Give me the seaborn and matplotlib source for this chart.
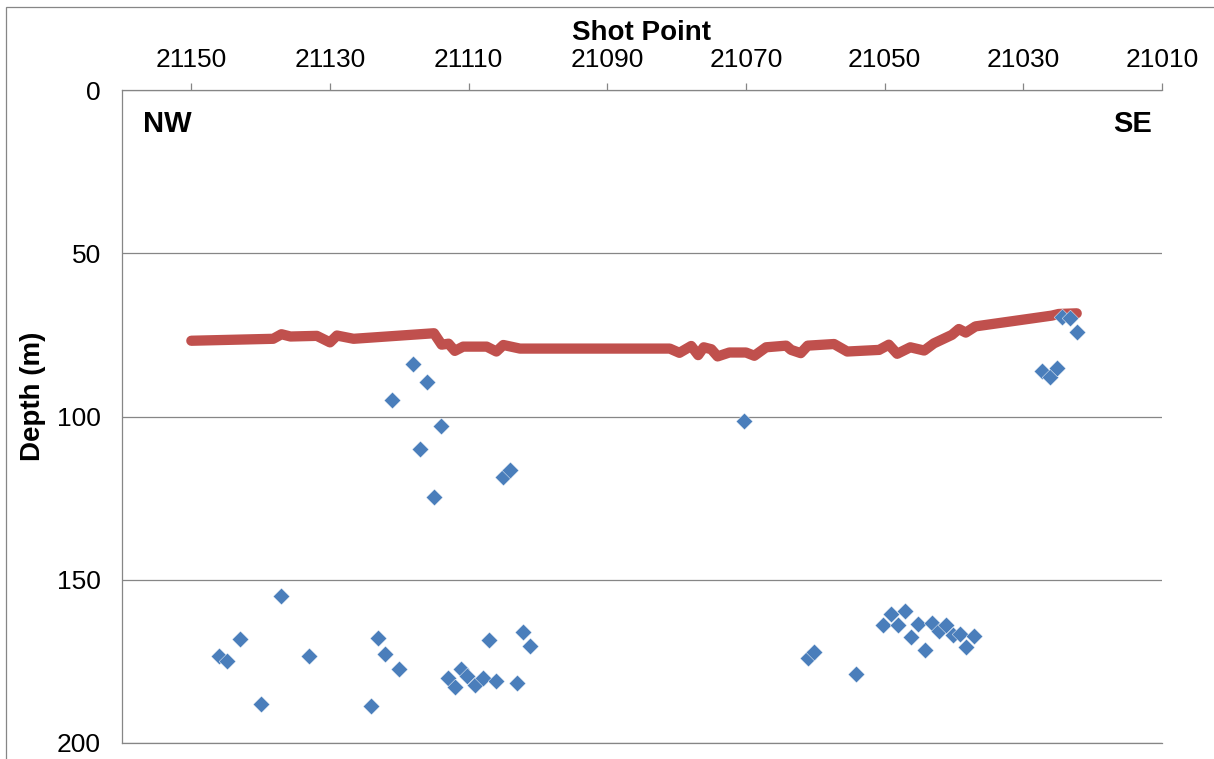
import matplotlib
matplotlib.use("Agg")
import matplotlib.pyplot as plt
from matplotlib.patches import Rectangle
import pandas as pd
import seaborn as sns

# Interpreted horizon (depth along the profile)
horizon_shot = [21150.0, 21138.2, 21137.0, 21135.7, 21131.9, 21130.0, 21129.0, 21126.6,
                21115.0, 21113.9, 21112.9, 21112.0, 21110.8, 21107.4, 21106.0, 21105.0,
                21102.6, 21081.0, 21079.6, 21077.9, 21076.9, 21076.1, 21075.0, 21074.1,
                21072.4, 21070.0, 21068.8, 21067.1, 21064.2, 21063.5, 21062.1, 21061.1,
                21057.3, 21055.4, 21050.8, 21049.4, 21048.2, 21046.3, 21044.3, 21042.9,
                21040.3, 21039.3, 21038.3, 21036.9, 21025.9, 21024.9, 21022.3]
horizon_depth = [76.8, 76.2, 74.8, 75.5, 75.3, 77.3, 75.2, 76.2,
                 74.5, 78.0, 77.7, 79.9, 78.6, 78.6, 80.1, 78.1,
                 79.2, 79.2, 80.5, 78.4, 81.2, 78.8, 79.4, 81.6,
                 80.4, 80.4, 81.4, 78.8, 78.3, 79.6, 80.6, 78.3,
                 77.8, 80.1, 79.6, 78.0, 80.8, 78.8, 79.8, 77.6,
                 75.0, 73.2, 74.3, 72.4, 69.1, 68.6, 68.4]

# Point picks (depth per shot point)
pick_shot = [21137.0, 21143.0, 21146.0, 21144.9, 21133.0, 21140.0,
             21123.1, 21122.0, 21120.0, 21124.1,
             21118.1, 21116.0, 21121.0, 21114.0, 21117.0, 21115.0, 21105.1, 21104.1,
             21113.0, 21112.0, 21111.1, 21110.2, 21109.1, 21108.0, 21107.0, 21106.1,
             21103.1, 21102.1, 21101.1,
             21070.3,
             21061.1, 21060.2, 21054.2,
             21050.2, 21049.1, 21048.1, 21047.1, 21046.2, 21045.2, 21044.2, 21043.2,
             21042.1, 21041.2, 21040.2, 21039.1, 21038.2, 21037.1,
             21024.4, 21023.2, 21022.3, 21027.3, 21026.1, 21025.2]
pick_depth = [155.1, 168.1, 173.3, 174.8, 173.5, 188.1,
              167.7, 172.7, 177.3, 188.8,
              83.9, 89.5, 94.9, 102.8, 110.0, 124.8, 118.6, 116.4,
              180.1, 182.7, 177.4, 179.6, 182.2, 180.1, 168.6, 180.9,
              181.7, 166.0, 170.4,
              101.4,
              174.0, 172.0, 178.8,
              163.8, 160.4, 163.8, 159.7, 167.6, 163.6, 171.5, 163.3,
              165.8, 163.8, 166.9, 166.7, 170.6, 167.2,
              69.6, 69.9, 74.0, 86.2, 87.8, 85.2]

x_ticks = [21150, 21130, 21110, 21090, 21070, 21050, 21030, 21010]
y_ticks = [0, 50, 100, 150, 200]

RED = "#C0504D"
BLUE = "#4A7EBB"
GREY = "#868686"

sns.set_theme(style="white")
plt.rcParams["font.family"] = ["Liberation Sans", "DejaVu Sans"]
plt.rcParams["text.color"] = "black"
plt.rcParams["axes.labelcolor"] = "black"

horizon = pd.DataFrame({"shot": horizon_shot, "depth": horizon_depth})
picks = pd.DataFrame({"shot": pick_shot, "depth": pick_depth})

fig = plt.figure(figsize=(12.14, 7.59), dpi=100)
ax = fig.add_axes([122 / 1214, 1 - 743 / 759, 1040 / 1214, 653 / 759])

sns.lineplot(data=horizon, x="shot", y="depth", ax=ax, color=RED, linewidth=7.4,
             estimator=None, sort=False, solid_capstyle="round",
             solid_joinstyle="round", zorder=2)
sns.scatterplot(data=picks, x="shot", y="depth", ax=ax, color=BLUE, marker="D",
                s=72, edgecolor="white", linewidth=0.3, zorder=3)

ax.set_xlim(21160, 21010)
ax.set_ylim(200, 0)
ax.set_xticks(x_ticks)
ax.set_yticks(y_ticks)
ax.set_xticklabels([str(v) for v in x_ticks])
ax.set_yticklabels([str(v) for v in y_ticks])

ax.xaxis.tick_top()
ax.xaxis.set_label_position("top")
ax.tick_params(axis="x", which="major", direction="out", length=5, width=0.9,
               color=GREY, labelsize=19, labelcolor="black", pad=8,
               top=True, bottom=False)
ax.tick_params(axis="y", which="major", direction="out", length=2.2, width=0.9,
               color=GREY, labelsize=19, labelcolor="black", pad=13)

ax.grid(axis="y", color=GREY, linewidth=0.9)
ax.grid(axis="x", visible=False)
for side in ["top", "left", "bottom"]:
    ax.spines[side].set_visible(True)
    ax.spines[side].set_color(GREY)
    ax.spines[side].set_linewidth(0.9)
ax.spines["right"].set_visible(False)

ax.set_xlabel("Shot Point", fontsize=20, fontweight="bold", labelpad=6,
              color="black")
ax.set_ylabel("Depth (m)", fontsize=20, fontweight="bold", va="center",
              color="black")
ax.yaxis.set_label_coords(-0.0856, 0.531)

ax.text(0.020, 0.935, "NW", transform=ax.transAxes, fontsize=21,
        fontweight="bold", ha="left", va="baseline", color="black")
ax.text(0.990, 0.935, "SE", transform=ax.transAxes, fontsize=21,
        fontweight="bold", ha="right", va="baseline", color="black")

# Chart-area frame
fig.patches.append(Rectangle((6 / 1214, -0.2), 1.2, 0.99078 + 0.2,
                             transform=fig.transFigure, fill=False,
                             edgecolor=GREY, linewidth=0.9, zorder=0))

fig.savefig("out.png", dpi=100)
